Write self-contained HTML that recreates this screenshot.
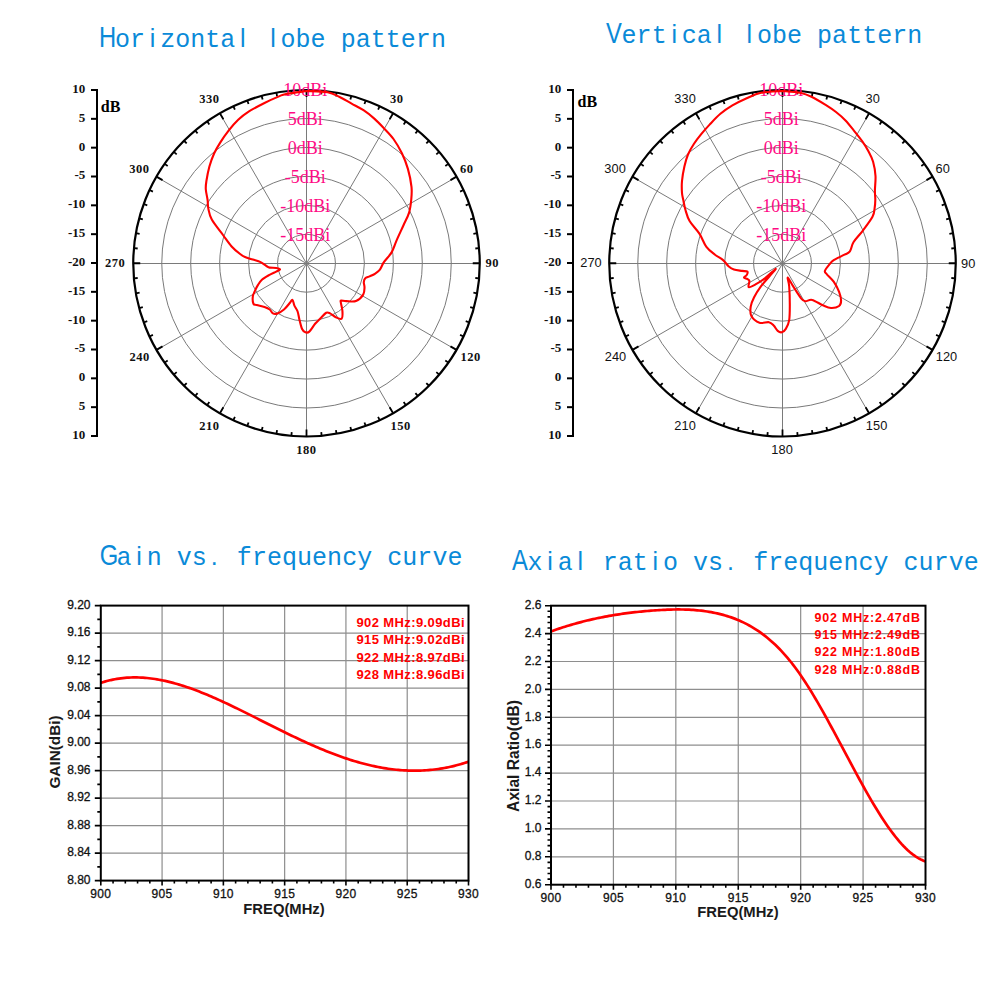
<!DOCTYPE html>
<html><head><meta charset="utf-8"><title>Antenna patterns</title>
<style>html,body{margin:0;padding:0;background:#fff;width:1001px;height:1001px;overflow:hidden}svg{display:block}</style>
</head><body>
<svg width="1001" height="1001" viewBox="0 0 1001 1001"><rect x="0" y="0" width="1001" height="1001" fill="#fff"/>
<g font-family='"Liberation Sans", sans-serif' font-size="25" fill="#0a8ad8" text-anchor="middle"><text transform="translate(107.52 47.2) scale(0.82 1)" font-size="29">H</text><text x="122.56" y="47.2" font-family='"Liberation Mono", monospace' font-size="25">o</text><text x="137.6" y="47.2" font-family='"Liberation Mono", monospace' font-size="25">r</text><text x="152.64" y="47.2">i</text><text x="167.68" y="47.2" font-family='"Liberation Mono", monospace' font-size="25">z</text><text x="182.72" y="47.2" font-family='"Liberation Mono", monospace' font-size="25">o</text><text x="197.76" y="47.2" font-family='"Liberation Mono", monospace' font-size="25">n</text><text x="212.8" y="47.2" font-family='"Liberation Mono", monospace' font-size="25">t</text><text x="227.84" y="47.2" font-family='"Liberation Mono", monospace' font-size="25">a</text><text x="242.88" y="47.2">l</text><text x="272.96" y="47.2">l</text><text x="288" y="47.2" font-family='"Liberation Mono", monospace' font-size="25">o</text><text x="303.04" y="47.2" font-family='"Liberation Mono", monospace' font-size="25">b</text><text x="318.08" y="47.2" font-family='"Liberation Mono", monospace' font-size="25">e</text><text x="348.16" y="47.2" font-family='"Liberation Mono", monospace' font-size="25">p</text><text x="363.2" y="47.2" font-family='"Liberation Mono", monospace' font-size="25">a</text><text x="378.24" y="47.2" font-family='"Liberation Mono", monospace' font-size="25">t</text><text x="393.28" y="47.2" font-family='"Liberation Mono", monospace' font-size="25">t</text><text x="408.32" y="47.2" font-family='"Liberation Mono", monospace' font-size="25">e</text><text x="423.36" y="47.2" font-family='"Liberation Mono", monospace' font-size="25">r</text><text x="438.4" y="47.2" font-family='"Liberation Mono", monospace' font-size="25">n</text></g>
<g font-family='"Liberation Sans", sans-serif' font-size="25" fill="#0a8ad8" text-anchor="middle"><text transform="translate(614.02 43) scale(0.82 1)" font-size="29">V</text><text x="629.06" y="43" font-family='"Liberation Mono", monospace' font-size="25">e</text><text x="644.1" y="43" font-family='"Liberation Mono", monospace' font-size="25">r</text><text x="659.14" y="43" font-family='"Liberation Mono", monospace' font-size="25">t</text><text x="674.18" y="43">i</text><text x="689.22" y="43" font-family='"Liberation Mono", monospace' font-size="25">c</text><text x="704.26" y="43" font-family='"Liberation Mono", monospace' font-size="25">a</text><text x="719.3" y="43">l</text><text x="749.38" y="43">l</text><text x="764.42" y="43" font-family='"Liberation Mono", monospace' font-size="25">o</text><text x="779.46" y="43" font-family='"Liberation Mono", monospace' font-size="25">b</text><text x="794.5" y="43" font-family='"Liberation Mono", monospace' font-size="25">e</text><text x="824.58" y="43" font-family='"Liberation Mono", monospace' font-size="25">p</text><text x="839.62" y="43" font-family='"Liberation Mono", monospace' font-size="25">a</text><text x="854.66" y="43" font-family='"Liberation Mono", monospace' font-size="25">t</text><text x="869.7" y="43" font-family='"Liberation Mono", monospace' font-size="25">t</text><text x="884.74" y="43" font-family='"Liberation Mono", monospace' font-size="25">e</text><text x="899.78" y="43" font-family='"Liberation Mono", monospace' font-size="25">r</text><text x="914.82" y="43" font-family='"Liberation Mono", monospace' font-size="25">n</text></g>
<g font-family='"Liberation Sans", sans-serif' font-size="25" fill="#0a8ad8" text-anchor="middle"><text transform="translate(109.02 565.3) scale(0.82 1)" font-size="29">G</text><text x="124.06" y="565.3" font-family='"Liberation Mono", monospace' font-size="25">a</text><text x="139.1" y="565.3">i</text><text x="154.14" y="565.3" font-family='"Liberation Mono", monospace' font-size="25">n</text><text x="184.22" y="565.3" font-family='"Liberation Mono", monospace' font-size="25">v</text><text x="199.26" y="565.3" font-family='"Liberation Mono", monospace' font-size="25">s</text><text x="214.3" y="565.3">.</text><text x="244.38" y="565.3" font-family='"Liberation Mono", monospace' font-size="25">f</text><text x="259.42" y="565.3" font-family='"Liberation Mono", monospace' font-size="25">r</text><text x="274.46" y="565.3" font-family='"Liberation Mono", monospace' font-size="25">e</text><text x="289.5" y="565.3" font-family='"Liberation Mono", monospace' font-size="25">q</text><text x="304.54" y="565.3" font-family='"Liberation Mono", monospace' font-size="25">u</text><text x="319.58" y="565.3" font-family='"Liberation Mono", monospace' font-size="25">e</text><text x="334.62" y="565.3" font-family='"Liberation Mono", monospace' font-size="25">n</text><text x="349.66" y="565.3" font-family='"Liberation Mono", monospace' font-size="25">c</text><text x="364.7" y="565.3" font-family='"Liberation Mono", monospace' font-size="25">y</text><text x="394.78" y="565.3" font-family='"Liberation Mono", monospace' font-size="25">c</text><text x="409.82" y="565.3" font-family='"Liberation Mono", monospace' font-size="25">u</text><text x="424.86" y="565.3" font-family='"Liberation Mono", monospace' font-size="25">r</text><text x="439.9" y="565.3" font-family='"Liberation Mono", monospace' font-size="25">v</text><text x="454.94" y="565.3" font-family='"Liberation Mono", monospace' font-size="25">e</text></g>
<g font-family='"Liberation Sans", sans-serif' font-size="25" fill="#0a8ad8" text-anchor="middle"><text transform="translate(520.02 569.5) scale(0.82 1)" font-size="29">A</text><text x="535.06" y="569.5" font-family='"Liberation Mono", monospace' font-size="25">x</text><text x="550.1" y="569.5">i</text><text x="565.14" y="569.5" font-family='"Liberation Mono", monospace' font-size="25">a</text><text x="580.18" y="569.5">l</text><text x="610.26" y="569.5" font-family='"Liberation Mono", monospace' font-size="25">r</text><text x="625.3" y="569.5" font-family='"Liberation Mono", monospace' font-size="25">a</text><text x="640.34" y="569.5" font-family='"Liberation Mono", monospace' font-size="25">t</text><text x="655.38" y="569.5">i</text><text x="670.42" y="569.5" font-family='"Liberation Mono", monospace' font-size="25">o</text><text x="700.5" y="569.5" font-family='"Liberation Mono", monospace' font-size="25">v</text><text x="715.54" y="569.5" font-family='"Liberation Mono", monospace' font-size="25">s</text><text x="730.58" y="569.5">.</text><text x="760.66" y="569.5" font-family='"Liberation Mono", monospace' font-size="25">f</text><text x="775.7" y="569.5" font-family='"Liberation Mono", monospace' font-size="25">r</text><text x="790.74" y="569.5" font-family='"Liberation Mono", monospace' font-size="25">e</text><text x="805.78" y="569.5" font-family='"Liberation Mono", monospace' font-size="25">q</text><text x="820.82" y="569.5" font-family='"Liberation Mono", monospace' font-size="25">u</text><text x="835.86" y="569.5" font-family='"Liberation Mono", monospace' font-size="25">e</text><text x="850.9" y="569.5" font-family='"Liberation Mono", monospace' font-size="25">n</text><text x="865.94" y="569.5" font-family='"Liberation Mono", monospace' font-size="25">c</text><text x="880.98" y="569.5" font-family='"Liberation Mono", monospace' font-size="25">y</text><text x="911.06" y="569.5" font-family='"Liberation Mono", monospace' font-size="25">c</text><text x="926.1" y="569.5" font-family='"Liberation Mono", monospace' font-size="25">u</text><text x="941.14" y="569.5" font-family='"Liberation Mono", monospace' font-size="25">r</text><text x="956.18" y="569.5" font-family='"Liberation Mono", monospace' font-size="25">v</text><text x="971.22" y="569.5" font-family='"Liberation Mono", monospace' font-size="25">e</text></g>
<circle cx="306.5" cy="263.25" r="28.95" fill="none" stroke="#7a7a7a" stroke-width="1"/>
<circle cx="306.5" cy="263.25" r="57.9" fill="none" stroke="#7a7a7a" stroke-width="1"/>
<circle cx="306.5" cy="263.25" r="86.85" fill="none" stroke="#7a7a7a" stroke-width="1"/>
<circle cx="306.5" cy="263.25" r="115.8" fill="none" stroke="#7a7a7a" stroke-width="1"/>
<circle cx="306.5" cy="263.25" r="144.75" fill="none" stroke="#7a7a7a" stroke-width="1"/>
<line x1="306.5" y1="436.75" x2="306.5" y2="90.25" stroke="#7a7a7a" stroke-width="1"/>
<line x1="219.88" y1="413.54" x2="393.12" y2="113.46" stroke="#7a7a7a" stroke-width="1"/>
<line x1="156.46" y1="350.12" x2="456.54" y2="176.88" stroke="#7a7a7a" stroke-width="1"/>
<line x1="133.25" y1="263.5" x2="479.75" y2="263.5" stroke="#7a7a7a" stroke-width="1"/>
<line x1="156.46" y1="176.88" x2="456.54" y2="350.12" stroke="#7a7a7a" stroke-width="1"/>
<line x1="219.88" y1="113.46" x2="393.12" y2="413.54" stroke="#7a7a7a" stroke-width="1"/>
<path d="M306.5 90L306.5 97M321.6 90.66L321.27 94.44M336.58 92.63L335.92 96.37M351.34 95.9L350.36 99.57M365.75 100.45L364.46 104.02M379.72 106.23L378.11 109.68M393.12 113.21L389.62 119.27M405.87 121.33L403.69 124.44M417.86 130.53L415.42 133.44M429.01 140.74L426.32 143.43M439.22 151.89L436.31 154.33M448.42 163.88L445.31 166.06M456.54 176.62L450.48 180.12M463.52 190.03L460.07 191.64M469.3 204L465.73 205.29M473.85 218.41L470.18 219.39M477.12 233.17L473.38 233.83M479.09 248.15L475.31 248.48M479.75 263.25L472.75 263.25M479.09 278.35L475.31 278.02M477.12 293.33L473.38 292.67M473.85 308.09L470.18 307.11M469.3 322.5L465.73 321.21M463.52 336.47L460.07 334.86M456.54 349.87L450.48 346.37M448.42 362.62L445.31 360.44M439.22 374.61L436.31 372.17M429.01 385.76L426.32 383.07M417.86 395.97L415.42 393.06M405.87 405.17L403.69 402.06M393.12 413.29L389.62 407.23M379.72 420.27L378.11 416.82M365.75 426.05L364.46 422.48M351.34 430.6L350.36 426.93M336.58 433.87L335.92 430.13M321.6 435.84L321.27 432.06M306.5 436.5L306.5 429.5M291.4 435.84L291.73 432.06M276.42 433.87L277.08 430.13M261.66 430.6L262.64 426.93M247.25 426.05L248.54 422.48M233.28 420.27L234.89 416.82M219.88 413.29L223.38 407.23M207.13 405.17L209.31 402.06M195.14 395.97L197.58 393.06M183.99 385.76L186.68 383.07M173.78 374.61L176.69 372.17M164.58 362.62L167.69 360.44M156.46 349.88L162.52 346.38M149.48 336.47L152.93 334.86M143.7 322.5L147.27 321.21M139.15 308.09L142.82 307.11M135.88 293.33L139.62 292.67M133.91 278.35L137.69 278.02M133.25 263.25L140.25 263.25M133.91 248.15L137.69 248.48M135.88 233.17L139.62 233.83M139.15 218.41L142.82 219.39M143.7 204L147.27 205.29M149.48 190.03L152.93 191.64M156.46 176.62L162.52 180.12M164.58 163.88L167.69 166.06M173.78 151.89L176.69 154.33M183.99 140.74L186.68 143.43M195.14 130.53L197.58 133.44M207.13 121.33L209.31 124.44M219.87 113.21L223.37 119.27M233.28 106.23L234.89 109.68M247.25 100.45L248.54 104.02M261.66 95.9L262.64 99.57M276.42 92.63L277.08 96.37M291.4 90.66L291.73 94.44" stroke="#000" stroke-width="1.8" fill="none"/>
<circle cx="306.5" cy="263.25" r="173.25" fill="none" stroke="#000" stroke-width="2.2"/>
<text x="305.2" y="96.45" font-family='"Liberation Serif", serif' font-size="18" fill="#ff0a84" text-anchor="middle">10dBi</text>
<text x="305.2" y="125.4" font-family='"Liberation Serif", serif' font-size="18" fill="#ff0a84" text-anchor="middle">5dBi</text>
<text x="305.2" y="154.35" font-family='"Liberation Serif", serif' font-size="18" fill="#ff0a84" text-anchor="middle">0dBi</text>
<text x="305.2" y="183.3" font-family='"Liberation Serif", serif' font-size="18" fill="#ff0a84" text-anchor="middle">-5dBi</text>
<text x="305.2" y="212.25" font-family='"Liberation Serif", serif' font-size="18" fill="#ff0a84" text-anchor="middle">-10dBi</text>
<text x="305.2" y="241.2" font-family='"Liberation Serif", serif' font-size="18" fill="#ff0a84" text-anchor="middle">-15dBi</text>
<path d="M306.5 91 C310.02 91.2 322.08 91.2 327.6 92.2 C333.12 93.2 335.6 95.1 339.6 97 C343.6 98.9 347.62 101.4 351.6 103.6 C355.58 105.8 359.72 107.7 363.5 110.2 C367.28 112.7 370.9 115.6 374.3 118.6 C377.7 121.6 380.7 124.8 383.9 128.2 C387.1 131.6 390.5 134.82 393.5 139 C396.5 143.18 399.5 148.32 401.9 153.3 C404.3 158.28 406.3 163.3 407.9 168.9 C409.5 174.5 410.95 181.72 411.5 186.9 C412.05 192.08 411.6 195.72 411.2 200 C410.8 204.28 410.38 208.4 409.1 212.6 C407.82 216.8 405.6 220.53 403.5 225.2 C401.4 229.87 398.48 236.07 396.5 240.6 C394.52 245.13 393.7 248.8 391.6 252.4 C389.5 256 385.88 259.28 383.9 262.2 C381.92 265.12 381.2 267.97 379.7 269.9 C378.2 271.83 376.57 272.72 374.9 273.8 C373.23 274.88 371.33 275.63 369.7 276.4 C368.07 277.17 366.08 277.42 365.1 278.4 C364.12 279.38 363.9 280.78 363.8 282.3 C363.7 283.82 364.6 285.45 364.5 287.5 C364.4 289.55 364.62 292.33 363.2 294.6 C361.78 296.87 358.82 300.02 356 301.1 C353.18 302.18 348.78 301.2 346.3 301.1 C343.82 301 342.02 300.28 341.1 300.5 C340.18 300.72 340.58 300.68 340.8 302.4 C341.02 304.12 342.23 308.1 342.4 310.8 C342.57 313.5 342.88 317.52 341.8 318.6 C340.72 319.68 337.85 318.17 335.9 317.3 C333.95 316.43 331.72 314.15 330.1 313.4 C328.48 312.65 327.83 311.93 326.2 312.8 C324.57 313.67 322.15 316.77 320.3 318.6 C318.45 320.43 316.93 321.63 315.1 323.8 C313.27 325.97 310.92 330.18 309.3 331.6 C307.68 333.02 306.6 332.73 305.4 332.3 C304.2 331.87 303.08 331.07 302.1 329 C301.12 326.93 300.25 322.82 299.5 319.9 C298.75 316.98 298.45 313.88 297.6 311.5 C296.75 309.12 295.27 307.55 294.4 305.6 C293.53 303.65 293.17 300.23 292.4 299.8 C291.63 299.37 291.2 301.38 289.8 303 C288.4 304.62 286.05 307.77 284 309.5 C281.95 311.23 279.35 312.75 277.5 313.4 C275.65 314.05 274.2 314.05 272.9 313.4 C271.6 312.75 271.1 310.57 269.7 309.5 C268.3 308.43 266.67 307.75 264.5 307 C262.33 306.25 258.55 305.55 256.7 305 C254.85 304.45 254.05 305.1 253.4 303.7 C252.75 302.3 252.58 298.65 252.8 296.6 C253.02 294.55 253.83 293.35 254.7 291.4 C255.57 289.45 256.8 286.85 258 284.9 C259.2 282.95 260.07 281.33 261.9 279.7 C263.73 278.07 266.62 276.45 269 275.1 C271.38 273.75 274.35 272.53 276.2 271.6 C278.05 270.67 280.1 270.1 280.1 269.5 C280.1 268.9 277.93 268.32 276.2 268 C274.47 267.68 271.33 267.93 269.7 267.6 C268.07 267.27 267.92 266.92 266.4 266 C264.88 265.08 262.87 263.18 260.6 262.1 C258.33 261.02 255.4 260.35 252.8 259.5 C250.2 258.65 247.17 257.95 245 257 C242.83 256.05 242.07 255.6 239.8 253.8 C237.53 252 234.2 249.33 231.4 246.2 C228.6 243.07 226.27 239.43 223 235 C219.73 230.57 214.25 224.03 211.8 219.6 C209.35 215.17 209 211.67 208.3 208.4 C207.6 205.13 208.02 203.18 207.6 200 C207.18 196.82 206 192.47 205.8 189.3 C205.6 186.13 205.8 184.8 206.4 181 C207 177.2 208.1 171.12 209.4 166.5 C210.7 161.88 212.4 157.28 214.2 153.3 C216 149.32 217.8 146.38 220.2 142.6 C222.6 138.82 225.6 134.4 228.6 130.6 C231.6 126.8 234.8 123 238.2 119.8 C241.6 116.6 244.62 114.2 249 111.4 C253.38 108.6 259.5 105.5 264.5 103 C269.5 100.5 275.4 97.9 279 96.4 C282.6 94.9 281.52 94.9 286.1 94 C290.68 93.1 303.1 91.5 306.5 91Z" fill="none" stroke="#ff0000" stroke-width="2.1" stroke-linejoin="round"/>
<text x="209.3" y="103.2" font-family='"Liberation Serif", serif' font-size="12.5" font-weight="bold" fill="#111" text-anchor="middle" letter-spacing="0.5">330</text>
<text x="396.8" y="103.3" font-family='"Liberation Serif", serif' font-size="12.5" font-weight="bold" fill="#111" text-anchor="middle" letter-spacing="0.5">30</text>
<text x="139.3" y="172.5" font-family='"Liberation Serif", serif' font-size="12.5" font-weight="bold" fill="#111" text-anchor="middle" letter-spacing="0.5">300</text>
<text x="466.8" y="172.5" font-family='"Liberation Serif", serif' font-size="12.5" font-weight="bold" fill="#111" text-anchor="middle" letter-spacing="0.5">60</text>
<text x="115.1" y="267" font-family='"Liberation Serif", serif' font-size="12.5" font-weight="bold" fill="#111" text-anchor="middle" letter-spacing="0.5">270</text>
<text x="492.3" y="267.4" font-family='"Liberation Serif", serif' font-size="12.5" font-weight="bold" fill="#111" text-anchor="middle" letter-spacing="0.5">90</text>
<text x="139.6" y="361.2" font-family='"Liberation Serif", serif' font-size="12.5" font-weight="bold" fill="#111" text-anchor="middle" letter-spacing="0.5">240</text>
<text x="470.6" y="361.2" font-family='"Liberation Serif", serif' font-size="12.5" font-weight="bold" fill="#111" text-anchor="middle" letter-spacing="0.5">120</text>
<text x="209.3" y="430.3" font-family='"Liberation Serif", serif' font-size="12.5" font-weight="bold" fill="#111" text-anchor="middle" letter-spacing="0.5">210</text>
<text x="400.7" y="429.9" font-family='"Liberation Serif", serif' font-size="12.5" font-weight="bold" fill="#111" text-anchor="middle" letter-spacing="0.5">150</text>
<text x="306.3" y="453.9" font-family='"Liberation Serif", serif' font-size="12.5" font-weight="bold" fill="#111" text-anchor="middle" letter-spacing="0.5">180</text>
<line x1="97" y1="89" x2="97" y2="437" stroke="#000" stroke-width="2"/>
<line x1="91" y1="90" x2="97" y2="90" stroke="#000" stroke-width="2"/>
<text x="85.3" y="92.9" font-family='"Liberation Serif", serif' font-size="13" font-weight="bold" fill="#111" text-anchor="end">10</text>
<line x1="91" y1="118.83" x2="97" y2="118.83" stroke="#000" stroke-width="2"/>
<text x="85.3" y="121.73" font-family='"Liberation Serif", serif' font-size="13" font-weight="bold" fill="#111" text-anchor="end">5</text>
<line x1="91" y1="147.67" x2="97" y2="147.67" stroke="#000" stroke-width="2"/>
<text x="85.3" y="150.57" font-family='"Liberation Serif", serif' font-size="13" font-weight="bold" fill="#111" text-anchor="end">0</text>
<line x1="91" y1="176.5" x2="97" y2="176.5" stroke="#000" stroke-width="2"/>
<text x="85.3" y="179.4" font-family='"Liberation Serif", serif' font-size="13" font-weight="bold" fill="#111" text-anchor="end">-5</text>
<line x1="91" y1="205.33" x2="97" y2="205.33" stroke="#000" stroke-width="2"/>
<text x="85.3" y="208.23" font-family='"Liberation Serif", serif' font-size="13" font-weight="bold" fill="#111" text-anchor="end">-10</text>
<line x1="91" y1="234.17" x2="97" y2="234.17" stroke="#000" stroke-width="2"/>
<text x="85.3" y="237.07" font-family='"Liberation Serif", serif' font-size="13" font-weight="bold" fill="#111" text-anchor="end">-15</text>
<line x1="91" y1="263" x2="97" y2="263" stroke="#000" stroke-width="2"/>
<text x="85.3" y="265.9" font-family='"Liberation Serif", serif' font-size="13" font-weight="bold" fill="#111" text-anchor="end">-20</text>
<line x1="91" y1="291.83" x2="97" y2="291.83" stroke="#000" stroke-width="2"/>
<text x="85.3" y="294.73" font-family='"Liberation Serif", serif' font-size="13" font-weight="bold" fill="#111" text-anchor="end">-15</text>
<line x1="91" y1="320.67" x2="97" y2="320.67" stroke="#000" stroke-width="2"/>
<text x="85.3" y="323.57" font-family='"Liberation Serif", serif' font-size="13" font-weight="bold" fill="#111" text-anchor="end">-10</text>
<line x1="91" y1="349.5" x2="97" y2="349.5" stroke="#000" stroke-width="2"/>
<text x="85.3" y="352.4" font-family='"Liberation Serif", serif' font-size="13" font-weight="bold" fill="#111" text-anchor="end">-5</text>
<line x1="91" y1="378.33" x2="97" y2="378.33" stroke="#000" stroke-width="2"/>
<text x="85.3" y="381.23" font-family='"Liberation Serif", serif' font-size="13" font-weight="bold" fill="#111" text-anchor="end">0</text>
<line x1="91" y1="407.17" x2="97" y2="407.17" stroke="#000" stroke-width="2"/>
<text x="85.3" y="410.07" font-family='"Liberation Serif", serif' font-size="13" font-weight="bold" fill="#111" text-anchor="end">5</text>
<line x1="91" y1="436" x2="97" y2="436" stroke="#000" stroke-width="2"/>
<text x="85.3" y="438.9" font-family='"Liberation Serif", serif' font-size="13" font-weight="bold" fill="#111" text-anchor="end">10</text>
<text x="100.8" y="111.8" font-family='"Liberation Serif", serif' font-size="16" font-weight="bold" fill="#000">dB</text>
<circle cx="782.5" cy="263.25" r="28.95" fill="none" stroke="#7a7a7a" stroke-width="1"/>
<circle cx="782.5" cy="263.25" r="57.9" fill="none" stroke="#7a7a7a" stroke-width="1"/>
<circle cx="782.5" cy="263.25" r="86.85" fill="none" stroke="#7a7a7a" stroke-width="1"/>
<circle cx="782.5" cy="263.25" r="115.8" fill="none" stroke="#7a7a7a" stroke-width="1"/>
<circle cx="782.5" cy="263.25" r="144.75" fill="none" stroke="#7a7a7a" stroke-width="1"/>
<line x1="782.5" y1="436.75" x2="782.5" y2="90.25" stroke="#7a7a7a" stroke-width="1"/>
<line x1="695.88" y1="413.54" x2="869.12" y2="113.46" stroke="#7a7a7a" stroke-width="1"/>
<line x1="632.46" y1="350.12" x2="932.54" y2="176.88" stroke="#7a7a7a" stroke-width="1"/>
<line x1="609.25" y1="263.5" x2="955.75" y2="263.5" stroke="#7a7a7a" stroke-width="1"/>
<line x1="632.46" y1="176.88" x2="932.54" y2="350.12" stroke="#7a7a7a" stroke-width="1"/>
<line x1="695.88" y1="113.46" x2="869.12" y2="413.54" stroke="#7a7a7a" stroke-width="1"/>
<path d="M782.5 90L782.5 97M797.6 90.66L797.27 94.44M812.58 92.63L811.92 96.37M827.34 95.9L826.36 99.57M841.75 100.45L840.46 104.02M855.72 106.23L854.11 109.68M869.12 113.21L865.62 119.27M881.87 121.33L879.69 124.44M893.86 130.53L891.42 133.44M905.01 140.74L902.32 143.43M915.22 151.89L912.31 154.33M924.42 163.88L921.31 166.06M932.54 176.62L926.48 180.12M939.52 190.03L936.07 191.64M945.3 204L941.73 205.29M949.85 218.41L946.18 219.39M953.12 233.17L949.38 233.83M955.09 248.15L951.31 248.48M955.75 263.25L948.75 263.25M955.09 278.35L951.31 278.02M953.12 293.33L949.38 292.67M949.85 308.09L946.18 307.11M945.3 322.5L941.73 321.21M939.52 336.47L936.07 334.86M932.54 349.87L926.48 346.37M924.42 362.62L921.31 360.44M915.22 374.61L912.31 372.17M905.01 385.76L902.32 383.07M893.86 395.97L891.42 393.06M881.87 405.17L879.69 402.06M869.12 413.29L865.62 407.23M855.72 420.27L854.11 416.82M841.75 426.05L840.46 422.48M827.34 430.6L826.36 426.93M812.58 433.87L811.92 430.13M797.6 435.84L797.27 432.06M782.5 436.5L782.5 429.5M767.4 435.84L767.73 432.06M752.42 433.87L753.08 430.13M737.66 430.6L738.64 426.93M723.25 426.05L724.54 422.48M709.28 420.27L710.89 416.82M695.88 413.29L699.38 407.23M683.13 405.17L685.31 402.06M671.14 395.97L673.58 393.06M659.99 385.76L662.68 383.07M649.78 374.61L652.69 372.17M640.58 362.62L643.69 360.44M632.46 349.88L638.52 346.38M625.48 336.47L628.93 334.86M619.7 322.5L623.27 321.21M615.15 308.09L618.82 307.11M611.88 293.33L615.62 292.67M609.91 278.35L613.69 278.02M609.25 263.25L616.25 263.25M609.91 248.15L613.69 248.48M611.88 233.17L615.62 233.83M615.15 218.41L618.82 219.39M619.7 204L623.27 205.29M625.48 190.03L628.93 191.64M632.46 176.62L638.52 180.12M640.58 163.88L643.69 166.06M649.78 151.89L652.69 154.33M659.99 140.74L662.68 143.43M671.14 130.53L673.58 133.44M683.13 121.33L685.31 124.44M695.87 113.21L699.37 119.27M709.28 106.23L710.89 109.68M723.25 100.45L724.54 104.02M737.66 95.9L738.64 99.57M752.42 92.63L753.08 96.37M767.4 90.66L767.73 94.44" stroke="#000" stroke-width="1.8" fill="none"/>
<circle cx="782.5" cy="263.25" r="173.25" fill="none" stroke="#000" stroke-width="2.2"/>
<text x="781.2" y="96.45" font-family='"Liberation Serif", serif' font-size="18" fill="#ff0a84" text-anchor="middle">10dBi</text>
<text x="781.2" y="125.4" font-family='"Liberation Serif", serif' font-size="18" fill="#ff0a84" text-anchor="middle">5dBi</text>
<text x="781.2" y="154.35" font-family='"Liberation Serif", serif' font-size="18" fill="#ff0a84" text-anchor="middle">0dBi</text>
<text x="781.2" y="183.3" font-family='"Liberation Serif", serif' font-size="18" fill="#ff0a84" text-anchor="middle">-5dBi</text>
<text x="781.2" y="212.25" font-family='"Liberation Serif", serif' font-size="18" fill="#ff0a84" text-anchor="middle">-10dBi</text>
<text x="781.2" y="241.2" font-family='"Liberation Serif", serif' font-size="18" fill="#ff0a84" text-anchor="middle">-15dBi</text>
<path d="M782 91 C785 91.3 795 91.8 800 92.8 C805 93.8 807.6 94.9 812 97 C816.4 99.1 822.4 102.9 826.4 105.4 C830.4 107.9 832.82 109.5 836 112 C839.18 114.5 842.52 117.3 845.5 120.4 C848.48 123.5 851.1 127.1 853.9 130.6 C856.7 134.1 859.9 138 862.3 141.4 C864.7 144.8 866.5 147.62 868.3 151 C870.1 154.38 871.9 157.53 873.1 161.7 C874.3 165.87 875.2 171.2 875.5 176 C875.8 180.8 874.93 186.5 874.9 190.5 C874.87 194.5 875.35 197.02 875.3 200 C875.25 202.98 875.07 205.6 874.6 208.4 C874.13 211.2 874.48 213.07 872.5 216.8 C870.52 220.53 865.85 226.6 862.7 230.8 C859.55 235 855.73 238.58 853.6 242 C851.47 245.42 851.42 249.18 849.9 251.3 C848.38 253.42 847.2 253.23 844.5 254.7 C841.8 256.17 836.18 258.52 833.7 260.1 C831.22 261.68 831.07 262.4 829.6 264.2 C828.13 266 825.35 269.22 824.9 270.9 C824.45 272.58 825.43 272.5 826.9 274.3 C828.37 276.1 831.67 278.78 833.7 281.7 C835.73 284.62 837.87 288.65 839.1 291.8 C840.33 294.95 841.1 298.23 841.1 300.6 C841.1 302.97 840.78 304.77 839.1 306 C837.42 307.23 833.7 308.12 831 308 C828.3 307.88 826.05 306.65 822.9 305.3 C819.75 303.95 815.02 300.58 812.1 299.9 C809.18 299.22 807.2 301.42 805.4 301.2 C803.6 300.98 803.33 301.07 801.3 298.6 C799.27 296.13 795.45 289.9 793.2 286.4 C790.95 282.9 788.47 277.6 787.8 277.6 C787.13 277.6 788.87 282 789.2 286.4 C789.53 290.8 789.8 298.38 789.8 304 C789.8 309.62 789.87 315.95 789.2 320.1 C788.53 324.25 787.03 326.87 785.8 328.9 C784.57 330.93 783.15 331.97 781.8 332.3 C780.45 332.63 779.05 332.03 777.7 330.9 C776.35 329.77 775.17 326.95 773.7 325.5 C772.23 324.05 771.27 322.65 768.9 322.2 C766.53 321.75 762.42 323.82 759.5 322.8 C756.58 321.78 752.87 318.8 751.4 316.1 C749.93 313.4 750.25 309.75 750.7 306.6 C751.15 303.45 752.4 300.57 754.1 297.2 C755.8 293.83 758.43 289.77 760.9 286.4 C763.37 283.03 766.43 279.92 768.9 277 C771.37 274.08 776.37 268.68 775.7 268.9 C775.03 269.12 768.27 275.72 764.9 278.3 C761.53 280.88 758.2 282.93 755.5 284.4 C752.8 285.87 749.72 287.67 748.7 287.1 C747.68 286.53 749.62 282.35 749.4 281 C749.18 279.65 748.3 279.57 747.4 279 C746.5 278.43 744.12 278.27 744 277.6 C743.88 276.93 746.13 276 746.7 275 C747.27 274 748.18 272.28 747.4 271.6 C746.62 270.92 744.25 271.23 742 270.9 C739.75 270.57 736.15 270.38 733.9 269.6 C731.65 268.82 730.3 267.78 728.5 266.2 C726.7 264.62 725.35 262.02 723.1 260.1 C720.85 258.18 717.78 256.9 715 254.7 C712.22 252.5 709 250.42 706.4 246.9 C703.8 243.38 702.2 237.92 699.4 233.6 C696.6 229.28 691.93 224.97 689.6 221 C687.27 217.03 686.45 213.3 685.4 209.8 C684.35 206.3 683.87 202.8 683.3 200 C682.73 197.2 682.22 196.17 682 193 C681.78 189.83 681.6 185.42 682 181 C682.4 176.58 683.4 170.92 684.4 166.5 C685.4 162.08 686.4 158.28 688 154.5 C689.6 150.72 691.8 147.18 694 143.8 C696.2 140.42 698.6 137.4 701.2 134.2 C703.8 131 706.4 128 709.6 124.6 C712.8 121.2 716.6 117 720.4 113.8 C724.2 110.6 728.02 108 732.4 105.4 C736.78 102.8 741.92 100.3 746.7 98.2 C751.48 96.1 755.22 94 761.1 92.8 C766.98 91.6 778.52 91.3 782 91Z" fill="none" stroke="#ff0000" stroke-width="2.1" stroke-linejoin="round"/>
<text x="685.2" y="103.3" font-family='"Liberation Sans", sans-serif' font-size="12.8" fill="#111" text-anchor="middle" letter-spacing="0.1">330</text>
<text x="872.7" y="103.4" font-family='"Liberation Sans", sans-serif' font-size="12.8" fill="#111" text-anchor="middle" letter-spacing="0.1">30</text>
<text x="615.2" y="172.6" font-family='"Liberation Sans", sans-serif' font-size="12.8" fill="#111" text-anchor="middle" letter-spacing="0.1">300</text>
<text x="942.7" y="172.6" font-family='"Liberation Sans", sans-serif' font-size="12.8" fill="#111" text-anchor="middle" letter-spacing="0.1">60</text>
<text x="591" y="267.1" font-family='"Liberation Sans", sans-serif' font-size="12.8" fill="#111" text-anchor="middle" letter-spacing="0.1">270</text>
<text x="968.2" y="267.5" font-family='"Liberation Sans", sans-serif' font-size="12.8" fill="#111" text-anchor="middle" letter-spacing="0.1">90</text>
<text x="615.5" y="361.3" font-family='"Liberation Sans", sans-serif' font-size="12.8" fill="#111" text-anchor="middle" letter-spacing="0.1">240</text>
<text x="946.5" y="361.3" font-family='"Liberation Sans", sans-serif' font-size="12.8" fill="#111" text-anchor="middle" letter-spacing="0.1">120</text>
<text x="685.2" y="430.4" font-family='"Liberation Sans", sans-serif' font-size="12.8" fill="#111" text-anchor="middle" letter-spacing="0.1">210</text>
<text x="876.6" y="430" font-family='"Liberation Sans", sans-serif' font-size="12.8" fill="#111" text-anchor="middle" letter-spacing="0.1">150</text>
<text x="782.2" y="454" font-family='"Liberation Sans", sans-serif' font-size="12.8" fill="#111" text-anchor="middle" letter-spacing="0.1">180</text>
<line x1="573" y1="89" x2="573" y2="437" stroke="#000" stroke-width="2"/>
<line x1="567" y1="90" x2="573" y2="90" stroke="#000" stroke-width="2"/>
<text x="561.3" y="92.9" font-family='"Liberation Serif", serif' font-size="13" font-weight="bold" fill="#111" text-anchor="end">10</text>
<line x1="567" y1="118.83" x2="573" y2="118.83" stroke="#000" stroke-width="2"/>
<text x="561.3" y="121.73" font-family='"Liberation Serif", serif' font-size="13" font-weight="bold" fill="#111" text-anchor="end">5</text>
<line x1="567" y1="147.67" x2="573" y2="147.67" stroke="#000" stroke-width="2"/>
<text x="561.3" y="150.57" font-family='"Liberation Serif", serif' font-size="13" font-weight="bold" fill="#111" text-anchor="end">0</text>
<line x1="567" y1="176.5" x2="573" y2="176.5" stroke="#000" stroke-width="2"/>
<text x="561.3" y="179.4" font-family='"Liberation Serif", serif' font-size="13" font-weight="bold" fill="#111" text-anchor="end">-5</text>
<line x1="567" y1="205.33" x2="573" y2="205.33" stroke="#000" stroke-width="2"/>
<text x="561.3" y="208.23" font-family='"Liberation Serif", serif' font-size="13" font-weight="bold" fill="#111" text-anchor="end">-10</text>
<line x1="567" y1="234.17" x2="573" y2="234.17" stroke="#000" stroke-width="2"/>
<text x="561.3" y="237.07" font-family='"Liberation Serif", serif' font-size="13" font-weight="bold" fill="#111" text-anchor="end">-15</text>
<line x1="567" y1="263" x2="573" y2="263" stroke="#000" stroke-width="2"/>
<text x="561.3" y="265.9" font-family='"Liberation Serif", serif' font-size="13" font-weight="bold" fill="#111" text-anchor="end">-20</text>
<line x1="567" y1="291.83" x2="573" y2="291.83" stroke="#000" stroke-width="2"/>
<text x="561.3" y="294.73" font-family='"Liberation Serif", serif' font-size="13" font-weight="bold" fill="#111" text-anchor="end">-15</text>
<line x1="567" y1="320.67" x2="573" y2="320.67" stroke="#000" stroke-width="2"/>
<text x="561.3" y="323.57" font-family='"Liberation Serif", serif' font-size="13" font-weight="bold" fill="#111" text-anchor="end">-10</text>
<line x1="567" y1="349.5" x2="573" y2="349.5" stroke="#000" stroke-width="2"/>
<text x="561.3" y="352.4" font-family='"Liberation Serif", serif' font-size="13" font-weight="bold" fill="#111" text-anchor="end">-5</text>
<line x1="567" y1="378.33" x2="573" y2="378.33" stroke="#000" stroke-width="2"/>
<text x="561.3" y="381.23" font-family='"Liberation Serif", serif' font-size="13" font-weight="bold" fill="#111" text-anchor="end">0</text>
<line x1="567" y1="407.17" x2="573" y2="407.17" stroke="#000" stroke-width="2"/>
<text x="561.3" y="410.07" font-family='"Liberation Serif", serif' font-size="13" font-weight="bold" fill="#111" text-anchor="end">5</text>
<line x1="567" y1="436" x2="573" y2="436" stroke="#000" stroke-width="2"/>
<text x="561.3" y="438.9" font-family='"Liberation Serif", serif' font-size="13" font-weight="bold" fill="#111" text-anchor="end">10</text>
<text x="577.6" y="106.8" font-family='"Liberation Serif", serif' font-size="16" font-weight="bold" fill="#000">dB</text>
<path d="M162.08 605.6V880.6M223.37 605.6V880.6M284.65 605.6V880.6M345.93 605.6V880.6M407.22 605.6V880.6M100.8 853.1H468.5M100.8 825.6H468.5M100.8 798.1H468.5M100.8 770.6H468.5M100.8 743.1H468.5M100.8 715.6H468.5M100.8 688.1H468.5M100.8 660.6H468.5M100.8 633.1H468.5" stroke="#8e8e8e" stroke-width="1.2" fill="none"/>
<path d="M100.8 682.9 L102.81 682.24 L104.82 681.63 L106.83 681.06 L108.84 680.54 L110.85 680.06 L112.86 679.63 L114.87 679.23 L116.87 678.88 L118.88 678.56 L120.89 678.29 L122.9 678.05 L124.91 677.85 L126.92 677.69 L128.93 677.57 L130.94 677.48 L132.95 677.43 L134.96 677.42 L136.97 677.43 L138.98 677.49 L140.99 677.57 L143 677.69 L145 677.84 L147.01 678.02 L149.02 678.23 L151.03 678.47 L153.04 678.74 L155.05 679.03 L157.06 679.36 L159.07 679.71 L161.08 680.09 L163.09 680.5 L165.1 680.93 L167.11 681.39 L169.12 681.87 L171.13 682.37 L173.13 682.9 L175.14 683.45 L177.15 684.02 L179.16 684.62 L181.17 685.23 L183.18 685.86 L185.19 686.52 L187.2 687.19 L189.21 687.88 L191.22 688.59 L193.23 689.32 L195.24 690.07 L197.25 690.83 L199.26 691.6 L201.26 692.4 L203.27 693.2 L205.28 694.02 L207.29 694.86 L209.3 695.7 L211.31 696.56 L213.32 697.44 L215.33 698.32 L217.34 699.21 L219.35 700.12 L221.36 701.04 L223.37 701.96 L225.38 702.89 L227.39 703.84 L229.39 704.79 L231.4 705.74 L233.41 706.71 L235.42 707.68 L237.43 708.66 L239.44 709.64 L241.45 710.63 L243.46 711.62 L245.47 712.62 L247.48 713.62 L249.49 714.62 L251.5 715.63 L253.51 716.64 L255.52 717.65 L257.52 718.66 L259.53 719.67 L261.54 720.69 L263.55 721.7 L265.56 722.71 L267.57 723.73 L269.58 724.74 L271.59 725.75 L273.6 726.76 L275.61 727.76 L277.62 728.76 L279.63 729.76 L281.64 730.76 L283.65 731.75 L285.65 732.74 L287.66 733.72 L289.67 734.7 L291.68 735.67 L293.69 736.63 L295.7 737.59 L297.71 738.54 L299.72 739.49 L301.73 740.42 L303.74 741.35 L305.75 742.27 L307.76 743.18 L309.77 744.08 L311.78 744.98 L313.78 745.86 L315.79 746.73 L317.8 747.6 L319.81 748.45 L321.82 749.29 L323.83 750.12 L325.84 750.94 L327.85 751.74 L329.86 752.53 L331.87 753.31 L333.88 754.08 L335.89 754.83 L337.9 755.57 L339.91 756.3 L341.91 757.01 L343.92 757.7 L345.93 758.39 L347.94 759.05 L349.95 759.7 L351.96 760.34 L353.97 760.95 L355.98 761.55 L357.99 762.14 L360 762.71 L362.01 763.26 L364.02 763.79 L366.03 764.31 L368.04 764.8 L370.04 765.28 L372.05 765.74 L374.06 766.18 L376.07 766.6 L378.08 767.01 L380.09 767.39 L382.1 767.75 L384.11 768.09 L386.12 768.42 L388.13 768.72 L390.14 769 L392.15 769.26 L394.16 769.5 L396.17 769.72 L398.17 769.91 L400.18 770.09 L402.19 770.24 L404.2 770.37 L406.21 770.47 L408.22 770.56 L410.23 770.62 L412.24 770.66 L414.25 770.67 L416.26 770.66 L418.27 770.63 L420.28 770.58 L422.29 770.5 L424.3 770.39 L426.3 770.26 L428.31 770.11 L430.32 769.93 L432.33 769.73 L434.34 769.5 L436.35 769.25 L438.36 768.97 L440.37 768.67 L442.38 768.34 L444.39 767.98 L446.4 767.6 L448.41 767.2 L450.42 766.76 L452.43 766.31 L454.43 765.82 L456.44 765.31 L458.45 764.77 L460.46 764.21 L462.47 763.61 L464.48 763 L466.49 762.35 L468.5 761.68" fill="none" stroke="#ff0000" stroke-width="2.7" stroke-linejoin="round"/>
<path d="M100.8 880.6V885.6M113.06 880.6V883.6M125.31 880.6V883.6M137.57 880.6V883.6M149.83 880.6V883.6M162.08 880.6V885.6M174.34 880.6V883.6M186.6 880.6V883.6M198.85 880.6V883.6M211.11 880.6V883.6M223.37 880.6V885.6M235.62 880.6V883.6M247.88 880.6V883.6M260.14 880.6V883.6M272.39 880.6V883.6M284.65 880.6V885.6M296.91 880.6V883.6M309.16 880.6V883.6M321.42 880.6V883.6M333.68 880.6V883.6M345.93 880.6V885.6M358.19 880.6V883.6M370.45 880.6V883.6M382.7 880.6V883.6M394.96 880.6V883.6M407.22 880.6V885.6M419.47 880.6V883.6M431.73 880.6V883.6M443.99 880.6V883.6M456.24 880.6V883.6M468.5 880.6V885.6M100.8 880.6H94.8M100.8 866.85H97.3M100.8 853.1H94.8M100.8 839.35H97.3M100.8 825.6H94.8M100.8 811.85H97.3M100.8 798.1H94.8M100.8 784.35H97.3M100.8 770.6H94.8M100.8 756.85H97.3M100.8 743.1H94.8M100.8 729.35H97.3M100.8 715.6H94.8M100.8 701.85H97.3M100.8 688.1H94.8M100.8 674.35H97.3M100.8 660.6H94.8M100.8 646.85H97.3M100.8 633.1H94.8M100.8 619.35H97.3M100.8 605.6H94.8" stroke="#000" stroke-width="1.6" fill="none"/>
<rect x="100.8" y="605.6" width="367.7" height="275" fill="none" stroke="#000" stroke-width="2"/>
<text x="90.5" y="883.8" font-family='"Liberation Sans", sans-serif' font-size="12" fill="#111" stroke="#111" stroke-width="0.3" text-anchor="end">8.80</text>
<text x="90.5" y="856.3" font-family='"Liberation Sans", sans-serif' font-size="12" fill="#111" stroke="#111" stroke-width="0.3" text-anchor="end">8.84</text>
<text x="90.5" y="828.8" font-family='"Liberation Sans", sans-serif' font-size="12" fill="#111" stroke="#111" stroke-width="0.3" text-anchor="end">8.88</text>
<text x="90.5" y="801.3" font-family='"Liberation Sans", sans-serif' font-size="12" fill="#111" stroke="#111" stroke-width="0.3" text-anchor="end">8.92</text>
<text x="90.5" y="773.8" font-family='"Liberation Sans", sans-serif' font-size="12" fill="#111" stroke="#111" stroke-width="0.3" text-anchor="end">8.96</text>
<text x="90.5" y="746.3" font-family='"Liberation Sans", sans-serif' font-size="12" fill="#111" stroke="#111" stroke-width="0.3" text-anchor="end">9.00</text>
<text x="90.5" y="718.8" font-family='"Liberation Sans", sans-serif' font-size="12" fill="#111" stroke="#111" stroke-width="0.3" text-anchor="end">9.04</text>
<text x="90.5" y="691.3" font-family='"Liberation Sans", sans-serif' font-size="12" fill="#111" stroke="#111" stroke-width="0.3" text-anchor="end">9.08</text>
<text x="90.5" y="663.8" font-family='"Liberation Sans", sans-serif' font-size="12" fill="#111" stroke="#111" stroke-width="0.3" text-anchor="end">9.12</text>
<text x="90.5" y="636.3" font-family='"Liberation Sans", sans-serif' font-size="12" fill="#111" stroke="#111" stroke-width="0.3" text-anchor="end">9.16</text>
<text x="90.5" y="608.8" font-family='"Liberation Sans", sans-serif' font-size="12" fill="#111" stroke="#111" stroke-width="0.3" text-anchor="end">9.20</text>
<text x="100.8" y="898" font-family='"Liberation Sans", sans-serif' font-size="12" fill="#111" stroke="#111" stroke-width="0.3" text-anchor="middle" letter-spacing="0.3">900</text>
<text x="162.08" y="898" font-family='"Liberation Sans", sans-serif' font-size="12" fill="#111" stroke="#111" stroke-width="0.3" text-anchor="middle" letter-spacing="0.3">905</text>
<text x="223.37" y="898" font-family='"Liberation Sans", sans-serif' font-size="12" fill="#111" stroke="#111" stroke-width="0.3" text-anchor="middle" letter-spacing="0.3">910</text>
<text x="284.65" y="898" font-family='"Liberation Sans", sans-serif' font-size="12" fill="#111" stroke="#111" stroke-width="0.3" text-anchor="middle" letter-spacing="0.3">915</text>
<text x="345.93" y="898" font-family='"Liberation Sans", sans-serif' font-size="12" fill="#111" stroke="#111" stroke-width="0.3" text-anchor="middle" letter-spacing="0.3">920</text>
<text x="407.22" y="898" font-family='"Liberation Sans", sans-serif' font-size="12" fill="#111" stroke="#111" stroke-width="0.3" text-anchor="middle" letter-spacing="0.3">925</text>
<text x="468.5" y="898" font-family='"Liberation Sans", sans-serif' font-size="12" fill="#111" stroke="#111" stroke-width="0.3" text-anchor="middle" letter-spacing="0.3">930</text>
<text transform="translate(60 752) rotate(-90)" x="0" y="0" font-family='"Liberation Sans", sans-serif' font-size="15.3" font-weight="bold" fill="#1a1a1a" text-anchor="middle">GAIN(dBi)</text>
<text x="284" y="914" font-family='"Liberation Sans", sans-serif' font-size="14.8" font-weight="bold" fill="#1a1a1a" text-anchor="middle">FREQ(MHz)</text>
<text x="465" y="626.8" font-family='"Liberation Sans", sans-serif' font-size="13" font-weight="bold" fill="#ff0000" text-anchor="end" letter-spacing="0.4">902 MHz:9.09dBi</text>
<text x="465" y="644.2" font-family='"Liberation Sans", sans-serif' font-size="13" font-weight="bold" fill="#ff0000" text-anchor="end" letter-spacing="0.4">915 MHz:9.02dBi</text>
<text x="465" y="661.6" font-family='"Liberation Sans", sans-serif' font-size="13" font-weight="bold" fill="#ff0000" text-anchor="end" letter-spacing="0.4">922 MHz:8.97dBi</text>
<text x="465" y="679" font-family='"Liberation Sans", sans-serif' font-size="13" font-weight="bold" fill="#ff0000" text-anchor="end" letter-spacing="0.4">928 MHz:8.96dBi</text>
<path d="M613.42 605.7V884.7M675.83 605.7V884.7M738.25 605.7V884.7M800.67 605.7V884.7M863.08 605.7V884.7M551 856.8H925.5M551 828.9H925.5M551 801H925.5M551 773.1H925.5M551 745.2H925.5M551 717.3H925.5M551 689.4H925.5M551 661.5H925.5M551 633.6H925.5" stroke="#8e8e8e" stroke-width="1.2" fill="none"/>
<path d="M551 631.43 L553 630.7 L555.01 630 L557.01 629.3 L559.01 628.62 L561.01 627.96 L563.02 627.31 L565.02 626.67 L567.02 626.05 L569.02 625.44 L571.03 624.85 L573.03 624.26 L575.03 623.7 L577.03 623.14 L579.04 622.6 L581.04 622.07 L583.04 621.55 L585.05 621.05 L587.05 620.56 L589.05 620.08 L591.05 619.61 L593.06 619.16 L595.06 618.72 L597.06 618.29 L599.06 617.87 L601.07 617.46 L603.07 617.07 L605.07 616.68 L607.07 616.31 L609.08 615.95 L611.08 615.6 L613.08 615.26 L615.09 614.93 L617.09 614.61 L619.09 614.3 L621.09 614 L623.1 613.71 L625.1 613.44 L627.1 613.17 L629.1 612.91 L631.11 612.66 L633.11 612.42 L635.11 612.19 L637.11 611.97 L639.12 611.76 L641.12 611.56 L643.12 611.36 L645.13 611.18 L647.13 611 L649.13 610.83 L651.13 610.67 L653.14 610.52 L655.14 610.37 L657.14 610.24 L659.14 610.11 L661.15 609.99 L663.15 609.88 L665.15 609.78 L667.16 609.7 L669.16 609.62 L671.16 609.56 L673.16 609.51 L675.17 609.48 L677.17 609.46 L679.17 609.46 L681.17 609.48 L683.18 609.51 L685.18 609.56 L687.18 609.63 L689.18 609.72 L691.19 609.83 L693.19 609.96 L695.19 610.11 L697.2 610.28 L699.2 610.48 L701.2 610.7 L703.2 610.95 L705.21 611.22 L707.21 611.51 L709.21 611.84 L711.21 612.19 L713.22 612.57 L715.22 612.98 L717.22 613.41 L719.22 613.88 L721.23 614.38 L723.23 614.92 L725.23 615.48 L727.24 616.09 L729.24 616.72 L731.24 617.4 L733.24 618.12 L735.25 618.88 L737.25 619.68 L739.25 620.53 L741.25 621.42 L743.26 622.36 L745.26 623.34 L747.26 624.38 L749.26 625.46 L751.27 626.6 L753.27 627.79 L755.27 629.04 L757.28 630.34 L759.28 631.7 L761.28 633.12 L763.28 634.6 L765.29 636.15 L767.29 637.75 L769.29 639.42 L771.29 641.16 L773.3 642.97 L775.3 644.84 L777.3 646.78 L779.3 648.8 L781.31 650.89 L783.31 653.06 L785.31 655.3 L787.32 657.63 L789.32 660.03 L791.32 662.51 L793.32 665.08 L795.33 667.73 L797.33 670.47 L799.33 673.29 L801.33 676.2 L803.34 679.18 L805.34 682.23 L807.34 685.36 L809.34 688.55 L811.35 691.8 L813.35 695.11 L815.35 698.48 L817.36 701.9 L819.36 705.37 L821.36 708.88 L823.36 712.43 L825.37 716.03 L827.37 719.65 L829.37 723.3 L831.37 726.99 L833.38 730.69 L835.38 734.41 L837.38 738.15 L839.39 741.9 L841.39 745.66 L843.39 749.43 L845.39 753.19 L847.4 756.95 L849.4 760.71 L851.4 764.46 L853.4 768.19 L855.41 771.9 L857.41 775.6 L859.41 779.27 L861.41 782.91 L863.42 786.52 L865.42 790.1 L867.42 793.63 L869.43 797.12 L871.43 800.56 L873.43 803.95 L875.43 807.29 L877.44 810.57 L879.44 813.78 L881.44 816.92 L883.44 820 L885.45 822.99 L887.45 825.91 L889.45 828.75 L891.45 831.5 L893.46 834.16 L895.46 836.73 L897.46 839.19 L899.47 841.56 L901.47 843.82 L903.47 845.97 L905.47 848.01 L907.48 849.94 L909.48 851.74 L911.48 853.42 L913.48 854.97 L915.49 856.4 L917.49 857.68 L919.49 858.83 L921.49 859.84 L923.5 860.7 L925.5 861.41" fill="none" stroke="#ff0000" stroke-width="2.7" stroke-linejoin="round"/>
<path d="M551 884.7V889.7M563.48 884.7V887.7M575.97 884.7V887.7M588.45 884.7V887.7M600.93 884.7V887.7M613.42 884.7V889.7M625.9 884.7V887.7M638.38 884.7V887.7M650.87 884.7V887.7M663.35 884.7V887.7M675.83 884.7V889.7M688.32 884.7V887.7M700.8 884.7V887.7M713.28 884.7V887.7M725.77 884.7V887.7M738.25 884.7V889.7M750.73 884.7V887.7M763.22 884.7V887.7M775.7 884.7V887.7M788.18 884.7V887.7M800.67 884.7V889.7M813.15 884.7V887.7M825.63 884.7V887.7M838.12 884.7V887.7M850.6 884.7V887.7M863.08 884.7V889.7M875.57 884.7V887.7M888.05 884.7V887.7M900.53 884.7V887.7M913.02 884.7V887.7M925.5 884.7V889.7M551 884.7H545M551 879.12H547.5M551 873.54H547.5M551 867.96H547.5M551 862.38H547.5M551 856.8H545M551 851.22H547.5M551 845.64H547.5M551 840.06H547.5M551 834.48H547.5M551 828.9H545M551 823.32H547.5M551 817.74H547.5M551 812.16H547.5M551 806.58H547.5M551 801H545M551 795.42H547.5M551 789.84H547.5M551 784.26H547.5M551 778.68H547.5M551 773.1H545M551 767.52H547.5M551 761.94H547.5M551 756.36H547.5M551 750.78H547.5M551 745.2H545M551 739.62H547.5M551 734.04H547.5M551 728.46H547.5M551 722.88H547.5M551 717.3H545M551 711.72H547.5M551 706.14H547.5M551 700.56H547.5M551 694.98H547.5M551 689.4H545M551 683.82H547.5M551 678.24H547.5M551 672.66H547.5M551 667.08H547.5M551 661.5H545M551 655.92H547.5M551 650.34H547.5M551 644.76H547.5M551 639.18H547.5M551 633.6H545M551 628.02H547.5M551 622.44H547.5M551 616.86H547.5M551 611.28H547.5M551 605.7H545" stroke="#000" stroke-width="1.6" fill="none"/>
<rect x="551" y="605.7" width="374.5" height="279" fill="none" stroke="#000" stroke-width="2"/>
<text x="541.5" y="887.9" font-family='"Liberation Sans", sans-serif' font-size="12" fill="#111" stroke="#111" stroke-width="0.3" text-anchor="end">0.6</text>
<text x="541.5" y="860" font-family='"Liberation Sans", sans-serif' font-size="12" fill="#111" stroke="#111" stroke-width="0.3" text-anchor="end">0.8</text>
<text x="541.5" y="832.1" font-family='"Liberation Sans", sans-serif' font-size="12" fill="#111" stroke="#111" stroke-width="0.3" text-anchor="end">1.0</text>
<text x="541.5" y="804.2" font-family='"Liberation Sans", sans-serif' font-size="12" fill="#111" stroke="#111" stroke-width="0.3" text-anchor="end">1.2</text>
<text x="541.5" y="776.3" font-family='"Liberation Sans", sans-serif' font-size="12" fill="#111" stroke="#111" stroke-width="0.3" text-anchor="end">1.4</text>
<text x="541.5" y="748.4" font-family='"Liberation Sans", sans-serif' font-size="12" fill="#111" stroke="#111" stroke-width="0.3" text-anchor="end">1.6</text>
<text x="541.5" y="720.5" font-family='"Liberation Sans", sans-serif' font-size="12" fill="#111" stroke="#111" stroke-width="0.3" text-anchor="end">1.8</text>
<text x="541.5" y="692.6" font-family='"Liberation Sans", sans-serif' font-size="12" fill="#111" stroke="#111" stroke-width="0.3" text-anchor="end">2.0</text>
<text x="541.5" y="664.7" font-family='"Liberation Sans", sans-serif' font-size="12" fill="#111" stroke="#111" stroke-width="0.3" text-anchor="end">2.2</text>
<text x="541.5" y="636.8" font-family='"Liberation Sans", sans-serif' font-size="12" fill="#111" stroke="#111" stroke-width="0.3" text-anchor="end">2.4</text>
<text x="541.5" y="608.9" font-family='"Liberation Sans", sans-serif' font-size="12" fill="#111" stroke="#111" stroke-width="0.3" text-anchor="end">2.6</text>
<text x="551" y="902" font-family='"Liberation Sans", sans-serif' font-size="12" fill="#111" stroke="#111" stroke-width="0.3" text-anchor="middle" letter-spacing="0.3">900</text>
<text x="613.42" y="902" font-family='"Liberation Sans", sans-serif' font-size="12" fill="#111" stroke="#111" stroke-width="0.3" text-anchor="middle" letter-spacing="0.3">905</text>
<text x="675.83" y="902" font-family='"Liberation Sans", sans-serif' font-size="12" fill="#111" stroke="#111" stroke-width="0.3" text-anchor="middle" letter-spacing="0.3">910</text>
<text x="738.25" y="902" font-family='"Liberation Sans", sans-serif' font-size="12" fill="#111" stroke="#111" stroke-width="0.3" text-anchor="middle" letter-spacing="0.3">915</text>
<text x="800.67" y="902" font-family='"Liberation Sans", sans-serif' font-size="12" fill="#111" stroke="#111" stroke-width="0.3" text-anchor="middle" letter-spacing="0.3">920</text>
<text x="863.08" y="902" font-family='"Liberation Sans", sans-serif' font-size="12" fill="#111" stroke="#111" stroke-width="0.3" text-anchor="middle" letter-spacing="0.3">925</text>
<text x="925.5" y="902" font-family='"Liberation Sans", sans-serif' font-size="12" fill="#111" stroke="#111" stroke-width="0.3" text-anchor="middle" letter-spacing="0.3">930</text>
<text transform="translate(518.5 756) rotate(-90)" x="0" y="0" font-family='"Liberation Sans", sans-serif' font-size="15.6" font-weight="bold" fill="#1a1a1a" text-anchor="middle">Axial Ratio(dB)</text>
<text x="738" y="916.6" font-family='"Liberation Sans", sans-serif' font-size="14.8" font-weight="bold" fill="#1a1a1a" text-anchor="middle">FREQ(MHz)</text>
<text x="920.8" y="621.5" font-family='"Liberation Sans", sans-serif' font-size="12.5" font-weight="bold" fill="#ff0000" text-anchor="end" letter-spacing="0.8">902 MHz:2.47dB</text>
<text x="920.8" y="638.9" font-family='"Liberation Sans", sans-serif' font-size="12.5" font-weight="bold" fill="#ff0000" text-anchor="end" letter-spacing="0.8">915 MHz:2.49dB</text>
<text x="920.8" y="656.3" font-family='"Liberation Sans", sans-serif' font-size="12.5" font-weight="bold" fill="#ff0000" text-anchor="end" letter-spacing="0.8">922 MHz:1.80dB</text>
<text x="920.8" y="673.7" font-family='"Liberation Sans", sans-serif' font-size="12.5" font-weight="bold" fill="#ff0000" text-anchor="end" letter-spacing="0.8">928 MHz:0.88dB</text></svg>
</body></html>
